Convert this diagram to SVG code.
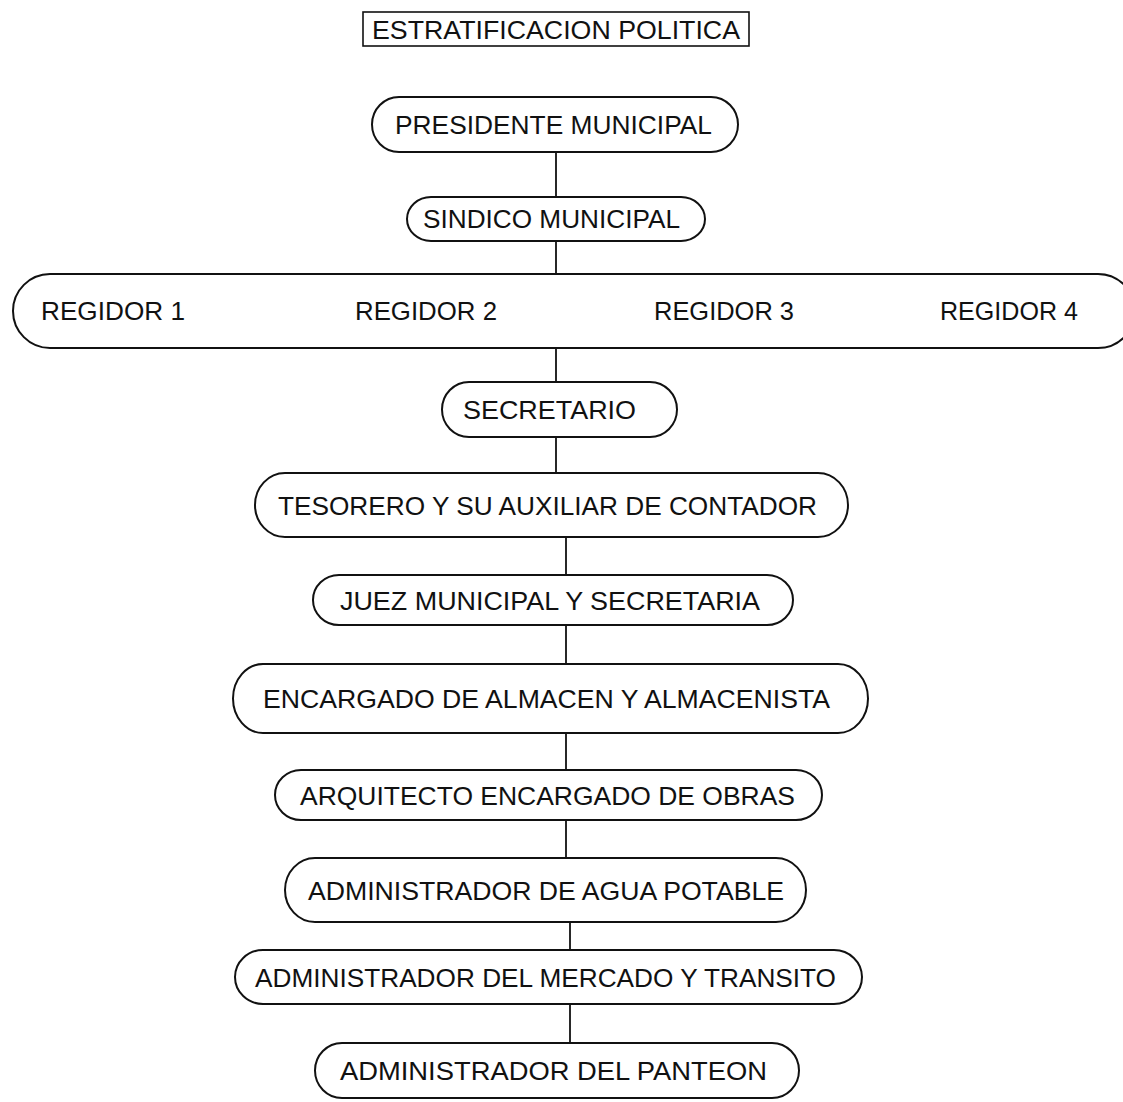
<svg xmlns="http://www.w3.org/2000/svg" width="1123" height="1102" viewBox="0 0 1123 1102">
<style>
  .pill { fill: none; stroke: #111; stroke-width: 2; }
  .box { fill: none; stroke: #111; stroke-width: 1.6; }
  .t { font-family: "Liberation Sans", Arial, Helvetica, sans-serif; font-size: 25px; fill: #111; text-anchor: start; }
  .c line { stroke: #111; stroke-width: 1.8; }
</style>
<rect width="1123" height="1102" fill="#fff"/>
<g id="title">
  <rect class="box" x="363" y="12" width="386" height="34"/>
  <text class="t" x="372" y="39" textLength="368" lengthAdjust="spacingAndGlyphs">ESTRATIFICACION POLITICA</text>
</g>
<g class="c" id="connectors">
  <line x1="556" y1="152" x2="556" y2="197"/>
  <line x1="556" y1="241" x2="556" y2="274"/>
  <line x1="556" y1="348" x2="556" y2="382"/>
  <line x1="556" y1="437" x2="556" y2="473"/>
  <line x1="566" y1="537" x2="566" y2="575"/>
  <line x1="566" y1="625" x2="566" y2="664"/>
  <line x1="566" y1="733" x2="566" y2="770"/>
  <line x1="566" y1="820" x2="566" y2="858"/>
  <line x1="570" y1="922" x2="570" y2="950"/>
  <line x1="570" y1="1004" x2="570" y2="1043"/>
</g>
<g id="presidente">
  <rect class="pill" x="372" y="97" width="366" height="55" rx="27" ry="27.5"/>
  <text class="t" x="395" y="134" textLength="317" lengthAdjust="spacingAndGlyphs">PRESIDENTE MUNICIPAL</text>
</g>
<g id="sindico">
  <rect class="pill" x="407" y="197" width="298" height="44" rx="24" ry="22"/>
  <text class="t" x="423" y="228" textLength="257" lengthAdjust="spacingAndGlyphs">SINDICO MUNICIPAL</text>
</g>
<g id="regidores">
  <rect class="pill" x="13" y="274" width="1122" height="74" rx="37" ry="37"/>
  <text class="t" x="41" y="320" textLength="144" lengthAdjust="spacingAndGlyphs">REGIDOR 1</text>
  <text class="t" x="355" y="320" textLength="142" lengthAdjust="spacingAndGlyphs">REGIDOR 2</text>
  <text class="t" x="654" y="320" textLength="140" lengthAdjust="spacingAndGlyphs">REGIDOR 3</text>
  <text class="t" x="940" y="320" textLength="138" lengthAdjust="spacingAndGlyphs">REGIDOR 4</text>
</g>
<g id="secretario">
  <rect class="pill" x="442" y="382" width="235" height="55" rx="27" ry="27.5"/>
  <text class="t" x="463" y="419" textLength="173" lengthAdjust="spacingAndGlyphs">SECRETARIO</text>
</g>
<g id="tesorero">
  <rect class="pill" x="255" y="473" width="593" height="64" rx="30" ry="32"/>
  <text class="t" x="278" y="515" textLength="539" lengthAdjust="spacingAndGlyphs">TESORERO Y SU AUXILIAR DE CONTADOR</text>
</g>
<g id="juez">
  <rect class="pill" x="313" y="575" width="480" height="50" rx="26" ry="25"/>
  <text class="t" x="340" y="610" textLength="420" lengthAdjust="spacingAndGlyphs">JUEZ MUNICIPAL Y SECRETARIA</text>
</g>
<g id="encargado">
  <rect class="pill" x="233" y="664" width="635" height="69" rx="30" ry="34.5"/>
  <text class="t" x="263" y="708" textLength="567" lengthAdjust="spacingAndGlyphs">ENCARGADO DE ALMACEN Y ALMACENISTA</text>
</g>
<g id="arquitecto">
  <rect class="pill" x="275" y="770" width="547" height="50" rx="26" ry="25"/>
  <text class="t" x="300" y="805" textLength="495" lengthAdjust="spacingAndGlyphs">ARQUITECTO ENCARGADO DE OBRAS</text>
</g>
<g id="agua">
  <rect class="pill" x="285" y="858" width="521" height="64" rx="30" ry="32"/>
  <text class="t" x="308" y="900" textLength="476" lengthAdjust="spacingAndGlyphs">ADMINISTRADOR DE AGUA POTABLE</text>
</g>
<g id="mercado">
  <rect class="pill" x="235" y="950" width="627" height="54" rx="28" ry="27"/>
  <text class="t" x="255" y="987" textLength="581" lengthAdjust="spacingAndGlyphs">ADMINISTRADOR DEL MERCADO Y TRANSITO</text>
</g>
<g id="panteon">
  <rect class="pill" x="315" y="1043" width="484" height="55" rx="27" ry="27.5"/>
  <text class="t" x="340" y="1080" textLength="427" lengthAdjust="spacingAndGlyphs">ADMINISTRADOR DEL PANTEON</text>
</g>
</svg>
